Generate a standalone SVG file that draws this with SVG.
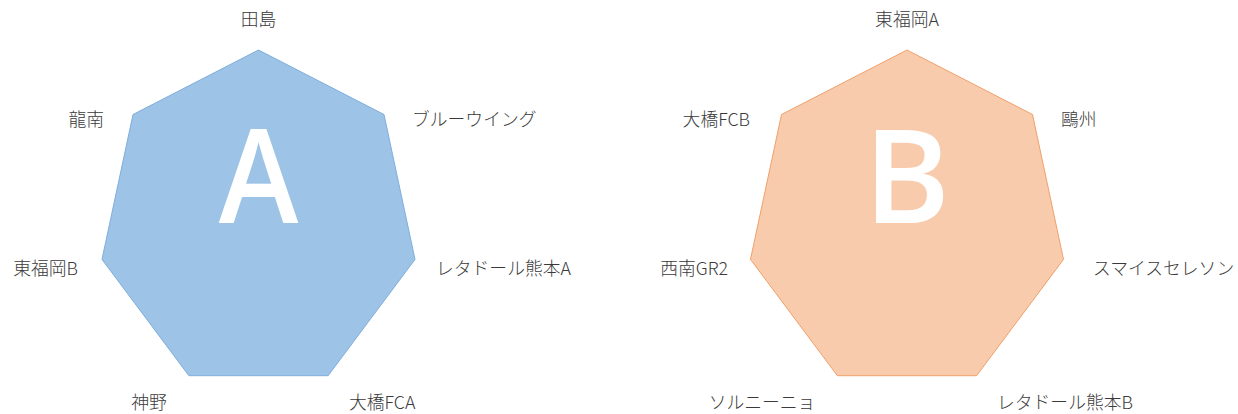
<svg xmlns="http://www.w3.org/2000/svg" width="1238" height="414" viewBox="0 0 1238 414">
<style>
.lbl{font-family:"Noto Sans CJK JP","Noto Sans",sans-serif;font-size:17.8px;font-weight:300;fill:#3a3a3a}
.big{font-family:"Open Sans","Liberation Sans",sans-serif;font-size:131px;font-weight:600;fill:#ffffff;text-anchor:middle}
.a{fill:#9DC3E6;stroke:#7FAEDC;stroke-width:1}
.b{fill:#F8CBAD;stroke:#F0A06A;stroke-width:1}
</style>
<rect width="1238" height="414" fill="#ffffff"/>
<g id="heptagonA">
<polygon class="a" points="258.5,50 384,114.5 415,259.4 328.1,375.7 188.9,375.7 102,259.4 133,114.5"/>
<text class="big" x="258.5" y="223" transform="translate(258.5 0) scale(0.92 1) translate(-258.5 0)">A</text>
</g>
<g id="heptagonB">
<polygon class="b" points="907,50 1032.5,114.5 1063.5,259.4 976.6,375.7 837.4,375.7 750.5,259.4 781.5,114.5"/>
<text class="big" x="907" y="223">B</text>
</g>
<g id="labelsA">
<text class="lbl" x="258.5" y="26" text-anchor="middle">田島</text>
<text class="lbl" x="412" y="126">ブルーウイング</text>
<text class="lbl" x="104" y="126" text-anchor="end">龍南</text>
<text class="lbl" x="78" y="275" text-anchor="end">東福岡B</text>
<text class="lbl" x="436" y="275">レタドール熊本A</text>
<text class="lbl" x="349" y="409">大橋FCA</text>
<text class="lbl" x="149" y="409" text-anchor="middle">神野</text>
</g>
<g id="labelsB">
<text class="lbl" x="907" y="26" text-anchor="middle">東福岡A</text>
<text class="lbl" x="1061" y="126">鷗州</text>
<text class="lbl" x="750" y="126" text-anchor="end">大橋FCB</text>
<text class="lbl" x="728" y="275" text-anchor="end">西南GR2</text>
<text class="lbl" x="1093" y="275">スマイスセレソン</text>
<text class="lbl" x="997" y="409">レタドール熊本B</text>
<text class="lbl" x="762" y="409" text-anchor="middle">ソルニーニョ</text>
</g>
</svg>
